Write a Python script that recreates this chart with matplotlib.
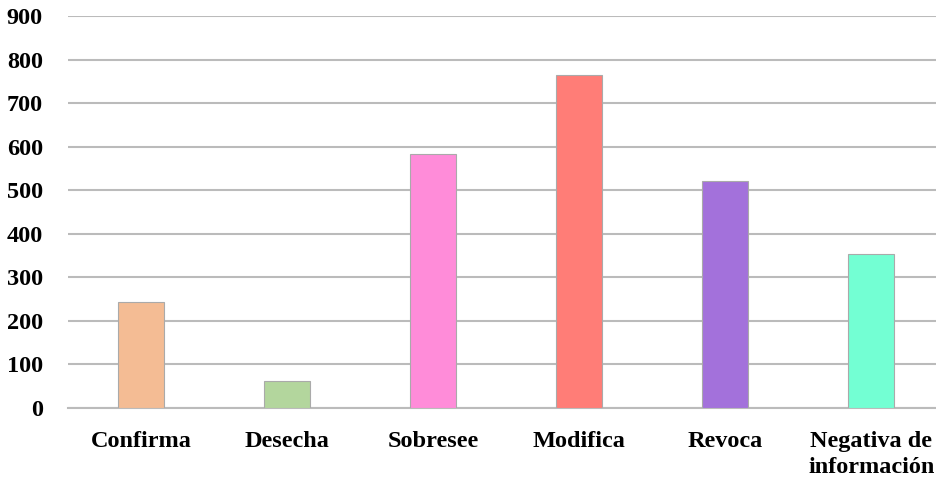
import matplotlib
matplotlib.use("Agg")
import matplotlib.pyplot as plt

categories = ["Confirma", "Desecha", "Sobresee", "Modifica", "Revoca", "Negativa de\ninformación"]
values = [243, 60, 583, 765, 520, 354]
colors = ["#F4BC94", "#B3D69D", "#FF8CD9", "#FF7D77", "#A371DB", "#73FFD3"]
y_ticks = list(range(0, 1000, 100))

plt.rcParams['font.family'] = ['Liberation Serif', 'DejaVu Serif']

fig = plt.figure(figsize=(9.37, 4.8), dpi=100)
ax = fig.add_axes([68 / 937, 0.151, 1 - 68 / 937, 0.815])

x = range(len(categories))
ax.bar(x, values, width=0.315, color=colors, edgecolor="#AAAAAA", linewidth=0.8, zorder=3)

ax.set_ylim(0, 900)
ax.set_xlim(-0.5, 5.45)
ax.set_yticks(y_ticks)
ax.set_yticklabels([str(t) for t in y_ticks], fontsize=17.5, fontweight="bold")
ax.set_xticks(list(x))
ax.set_xticklabels(categories, fontsize=17.5, fontweight="bold", linespacing=1.3)
ax.tick_params(axis="both", length=0)
ax.tick_params(axis="y", pad=18)
ax.tick_params(axis="x", pad=17)

ax.grid(axis="y", color="#BBBBBB", linewidth=1.5, zorder=0)
for side in ["top", "right", "left"]:
    ax.spines[side].set_visible(False)
ax.spines["bottom"].set_color("#BBBBBB")
ax.spines["bottom"].set_linewidth(1.5)

fig.savefig("out.png", dpi=100)
